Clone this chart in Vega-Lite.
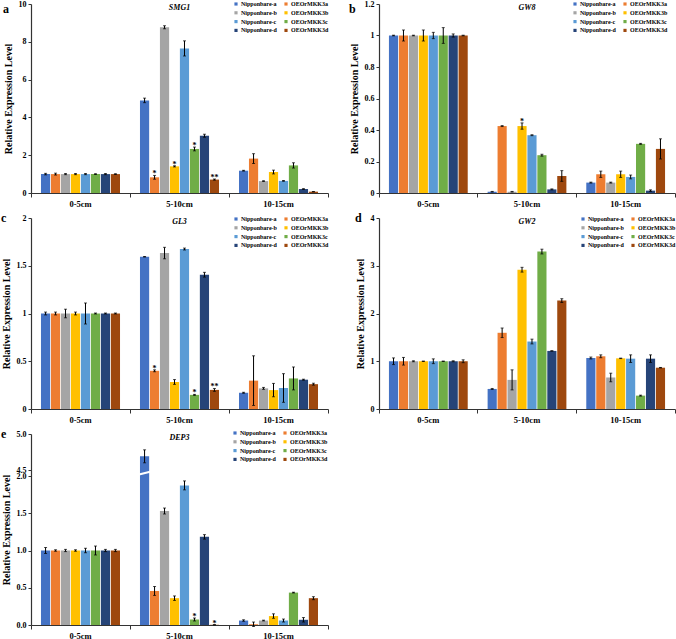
{
  "$schema": "https://vega.github.io/schema/vega-lite/v6.json",
  "padding": {"left": 1, "top": 0, "right": 0, "bottom": 3},
  "datasets": {
    "SMG1": [
      {"depth":"0-5cm","series":"Nipponbare-a","v":1,"e":0.04},
      {"depth":"0-5cm","series":"OEOrMKK3a","v":1,"e":0.05},
      {"depth":"0-5cm","series":"Nipponbare-b","v":1,"e":0.03},
      {"depth":"0-5cm","series":"OEOrMKK3b","v":1,"e":0.03},
      {"depth":"0-5cm","series":"Nipponbare-c","v":1,"e":0.03},
      {"depth":"0-5cm","series":"OEOrMKK3c","v":1,"e":0.02},
      {"depth":"0-5cm","series":"Nipponbare-d","v":1,"e":0.03},
      {"depth":"0-5cm","series":"OEOrMKK3d","v":1,"e":0.02},
      {"depth":"5-10cm","series":"Nipponbare-a","v":4.9,"e":0.12},
      {"depth":"5-10cm","series":"OEOrMKK3a","v":0.83,"e":0.1,"sig":"*"},
      {"depth":"5-10cm","series":"Nipponbare-b","v":8.77,"e":0.08},
      {"depth":"5-10cm","series":"OEOrMKK3b","v":1.41,"e":0.03,"sig":"*"},
      {"depth":"5-10cm","series":"Nipponbare-c","v":7.65,"e":0.4},
      {"depth":"5-10cm","series":"OEOrMKK3c","v":2.33,"e":0.1,"sig":"*"},
      {"depth":"5-10cm","series":"Nipponbare-d","v":3.03,"e":0.08},
      {"depth":"5-10cm","series":"OEOrMKK3d","v":0.71,"e":0.03,"sig":"**"},
      {"depth":"10-15cm","series":"Nipponbare-a","v":1.18,"e":0.02},
      {"depth":"10-15cm","series":"OEOrMKK3a","v":1.82,"e":0.26},
      {"depth":"10-15cm","series":"Nipponbare-b","v":0.63,"e":0.02},
      {"depth":"10-15cm","series":"OEOrMKK3b","v":1.11,"e":0.1},
      {"depth":"10-15cm","series":"Nipponbare-c","v":0.64,"e":0.02},
      {"depth":"10-15cm","series":"OEOrMKK3c","v":1.46,"e":0.14},
      {"depth":"10-15cm","series":"Nipponbare-d","v":0.21,"e":0.02},
      {"depth":"10-15cm","series":"OEOrMKK3d","v":0.07,"e":0.01}
    ],
    "GW8": [
      {"depth":"0-5cm","series":"Nipponbare-a","v":1,"e":0.002},
      {"depth":"0-5cm","series":"OEOrMKK3a","v":1,"e":0.035},
      {"depth":"0-5cm","series":"Nipponbare-b","v":1,"e":0.002},
      {"depth":"0-5cm","series":"OEOrMKK3b","v":1,"e":0.035},
      {"depth":"0-5cm","series":"Nipponbare-c","v":1,"e":0.02},
      {"depth":"0-5cm","series":"OEOrMKK3c","v":1,"e":0.05},
      {"depth":"0-5cm","series":"Nipponbare-d","v":1,"e":0.01},
      {"depth":"0-5cm","series":"OEOrMKK3d","v":1,"e":0.002},
      {"depth":"5-10cm","series":"Nipponbare-a","v":0.008,"e":0.002},
      {"depth":"5-10cm","series":"OEOrMKK3a","v":0.425,"e":0.003},
      {"depth":"5-10cm","series":"Nipponbare-b","v":0.008,"e":0.002},
      {"depth":"5-10cm","series":"OEOrMKK3b","v":0.425,"e":0.02,"sig":"*"},
      {"depth":"5-10cm","series":"Nipponbare-c","v":0.367,"e":0.003},
      {"depth":"5-10cm","series":"OEOrMKK3c","v":0.24,"e":0.006},
      {"depth":"5-10cm","series":"Nipponbare-d","v":0.023,"e":0.003},
      {"depth":"5-10cm","series":"OEOrMKK3d","v":0.108,"e":0.034},
      {"depth":"10-15cm","series":"Nipponbare-a","v":0.066,"e":0.003},
      {"depth":"10-15cm","series":"OEOrMKK3a","v":0.119,"e":0.02},
      {"depth":"10-15cm","series":"Nipponbare-b","v":0.066,"e":0.003},
      {"depth":"10-15cm","series":"OEOrMKK3b","v":0.119,"e":0.02},
      {"depth":"10-15cm","series":"Nipponbare-c","v":0.102,"e":0.012},
      {"depth":"10-15cm","series":"OEOrMKK3c","v":0.312,"e":0.003},
      {"depth":"10-15cm","series":"Nipponbare-d","v":0.015,"e":0.005},
      {"depth":"10-15cm","series":"OEOrMKK3d","v":0.28,"e":0.064}
    ],
    "GL3": [
      {"depth":"0-5cm","series":"Nipponbare-a","v":1,"e":0.015},
      {"depth":"0-5cm","series":"OEOrMKK3a","v":1,"e":0.015},
      {"depth":"0-5cm","series":"Nipponbare-b","v":1,"e":0.045},
      {"depth":"0-5cm","series":"OEOrMKK3b","v":1,"e":0.015},
      {"depth":"0-5cm","series":"Nipponbare-c","v":1,"e":0.11},
      {"depth":"0-5cm","series":"OEOrMKK3c","v":1,"e":0.005},
      {"depth":"0-5cm","series":"Nipponbare-d","v":1,"e":0.005},
      {"depth":"0-5cm","series":"OEOrMKK3d","v":1,"e":0.005},
      {"depth":"5-10cm","series":"Nipponbare-a","v":1.594,"e":0.003},
      {"depth":"5-10cm","series":"OEOrMKK3a","v":0.4,"e":0.01,"sig":"*"},
      {"depth":"5-10cm","series":"Nipponbare-b","v":1.633,"e":0.06},
      {"depth":"5-10cm","series":"OEOrMKK3b","v":0.283,"e":0.025},
      {"depth":"5-10cm","series":"Nipponbare-c","v":1.675,"e":0.01},
      {"depth":"5-10cm","series":"OEOrMKK3c","v":0.148,"e":0.005,"sig":"*"},
      {"depth":"5-10cm","series":"Nipponbare-d","v":1.406,"e":0.025},
      {"depth":"5-10cm","series":"OEOrMKK3d","v":0.2,"e":0.015,"sig":"**"},
      {"depth":"10-15cm","series":"Nipponbare-a","v":0.17,"e":0.005},
      {"depth":"10-15cm","series":"OEOrMKK3a","v":0.297,"e":0.26},
      {"depth":"10-15cm","series":"Nipponbare-b","v":0.216,"e":0.01},
      {"depth":"10-15cm","series":"OEOrMKK3b","v":0.198,"e":0.07},
      {"depth":"10-15cm","series":"Nipponbare-c","v":0.22,"e":0.15},
      {"depth":"10-15cm","series":"OEOrMKK3c","v":0.32,"e":0.12},
      {"depth":"10-15cm","series":"Nipponbare-d","v":0.307,"e":0.005},
      {"depth":"10-15cm","series":"OEOrMKK3d","v":0.26,"e":0.01}
    ],
    "GW2": [
      {"depth":"0-5cm","series":"Nipponbare-a","v":1,"e":0.07},
      {"depth":"0-5cm","series":"OEOrMKK3a","v":1,"e":0.08},
      {"depth":"0-5cm","series":"Nipponbare-b","v":1,"e":0.01},
      {"depth":"0-5cm","series":"OEOrMKK3b","v":1,"e":0.005},
      {"depth":"0-5cm","series":"Nipponbare-c","v":1,"e":0.05},
      {"depth":"0-5cm","series":"OEOrMKK3c","v":1,"e":0.005},
      {"depth":"0-5cm","series":"Nipponbare-d","v":1,"e":0.01},
      {"depth":"0-5cm","series":"OEOrMKK3d","v":1,"e":0.03},
      {"depth":"5-10cm","series":"Nipponbare-a","v":0.42,"e":0.01},
      {"depth":"5-10cm","series":"OEOrMKK3a","v":1.596,"e":0.1},
      {"depth":"5-10cm","series":"Nipponbare-b","v":0.61,"e":0.21},
      {"depth":"5-10cm","series":"OEOrMKK3b","v":2.917,"e":0.05},
      {"depth":"5-10cm","series":"Nipponbare-c","v":1.413,"e":0.05},
      {"depth":"5-10cm","series":"OEOrMKK3c","v":3.297,"e":0.05},
      {"depth":"5-10cm","series":"Nipponbare-d","v":1.216,"e":0.005},
      {"depth":"5-10cm","series":"OEOrMKK3d","v":2.27,"e":0.04},
      {"depth":"10-15cm","series":"Nipponbare-a","v":1.068,"e":0.02},
      {"depth":"10-15cm","series":"OEOrMKK3a","v":1.104,"e":0.03},
      {"depth":"10-15cm","series":"Nipponbare-b","v":0.66,"e":0.09},
      {"depth":"10-15cm","series":"OEOrMKK3b","v":1.061,"e":0.005},
      {"depth":"10-15cm","series":"Nipponbare-c","v":1.054,"e":0.08},
      {"depth":"10-15cm","series":"OEOrMKK3c","v":0.28,"e":0.01},
      {"depth":"10-15cm","series":"Nipponbare-d","v":1.054,"e":0.08},
      {"depth":"10-15cm","series":"OEOrMKK3d","v":0.865,"e":0.005}
    ],
    "DEP3": [
      {"depth":"0-5cm","series":"Nipponbare-a","v":1,"e":0.04},
      {"depth":"0-5cm","series":"OEOrMKK3a","v":1,"e":0.01},
      {"depth":"0-5cm","series":"Nipponbare-b","v":1,"e":0.015},
      {"depth":"0-5cm","series":"OEOrMKK3b","v":1,"e":0.01},
      {"depth":"0-5cm","series":"Nipponbare-c","v":1,"e":0.03},
      {"depth":"0-5cm","series":"OEOrMKK3c","v":1,"e":0.06},
      {"depth":"0-5cm","series":"Nipponbare-d","v":1,"e":0.015},
      {"depth":"0-5cm","series":"OEOrMKK3d","v":1,"e":0.015},
      {"depth":"5-10cm","series":"Nipponbare-a","v":4.69,"e":0.09},
      {"depth":"5-10cm","series":"OEOrMKK3a","v":0.457,"e":0.06},
      {"depth":"5-10cm","series":"Nipponbare-b","v":1.53,"e":0.04},
      {"depth":"5-10cm","series":"OEOrMKK3b","v":0.36,"e":0.03},
      {"depth":"5-10cm","series":"Nipponbare-c","v":1.874,"e":0.06},
      {"depth":"5-10cm","series":"OEOrMKK3c","v":0.074,"e":0.02,"sig":"*"},
      {"depth":"5-10cm","series":"Nipponbare-d","v":1.183,"e":0.03},
      {"depth":"5-10cm","series":"OEOrMKK3d","v":0.003,"e":0.002,"sig":"*"},
      {"depth":"10-15cm","series":"Nipponbare-a","v":0.06,"e":0.01},
      {"depth":"10-15cm","series":"OEOrMKK3a","v":0.01,"e":0.03},
      {"depth":"10-15cm","series":"Nipponbare-b","v":0.06,"e":0.005},
      {"depth":"10-15cm","series":"OEOrMKK3b","v":0.12,"e":0.03},
      {"depth":"10-15cm","series":"Nipponbare-c","v":0.06,"e":0.02},
      {"depth":"10-15cm","series":"OEOrMKK3c","v":0.435,"e":0.005},
      {"depth":"10-15cm","series":"Nipponbare-d","v":0.07,"e":0.03},
      {"depth":"10-15cm","series":"OEOrMKK3d","v":0.36,"e":0.02}
    ]
  },
  "columns": 2,
  "bounds": "flush",
  "spacing": {"row": 25, "column": 51},
  "resolve": {"scale": {"color": "independent", "y": "independent", "x": "independent", "xOffset": "independent"}, "legend": {"color": "independent"}},
  "concat": [
    {
      "width": 297, "height": 189,
      "title": {"text": "a", "offset": -16},
      "data": {"name": "SMG1"},
      "encoding": {
        "x": {"field": "depth", "type": "nominal", "sort": ["0-5cm","5-10cm","10-15cm"], "scale": {"paddingInner": 0, "paddingOuter": 0}, "axis": {"title": null, "labelPadding": 2.5, "labelAngle": 0, "labelFontSize": 8.5, "bandPosition": 1, "tickExtra": true, "tickSize": 4}}
      },
      "layer": [
        {
          "mark": {"type": "bar"},
          "encoding": {
            "xOffset": {"field": "series", "type": "nominal", "scale": {"domain": ["Nipponbare-a","OEOrMKK3a","Nipponbare-b","OEOrMKK3b","Nipponbare-c","OEOrMKK3c","Nipponbare-d","OEOrMKK3d"], "paddingInner": 0.08, "paddingOuter": 1}},
            "y": {"field": "v", "type": "quantitative", "scale": {"domain": [0, 10], "nice": false}, "axis": {"title": "Relative Expression Level", "values": [0,2,4,6,8,10], "format": "~r"}},
            "color": {"field": "series", "type": "nominal", "scale": {"domain": ["Nipponbare-a","Nipponbare-b","Nipponbare-c","Nipponbare-d","OEOrMKK3a","OEOrMKK3b","OEOrMKK3c","OEOrMKK3d"], "range": ["#4472C4","#A5A5A5","#5B9BD5","#264478","#ED7D31","#FFC000","#70AD47","#9E480E"]}, "legend": {"title": null, "legendX": 202, "legendY": -3}}
          }
        },
        {
          "mark": {"type": "errorbar", "ticks": {"size": 3, "thickness": 1, "color": "black"}, "rule": {"strokeWidth": 1, "color": "black"}},
          "encoding": {
            "xOffset": {"field": "series", "type": "nominal"},
            "y": {"field": "v", "type": "quantitative", "scale": {"domain": [0, 10], "nice": false}, "axis": {"title": "Relative Expression Level", "values": [0,2,4,6,8,10], "format": "~r"}},
            "yError": {"field": "e"}
          }
        },
        {
          "transform": [{"filter": "datum.sig"}, {"calculate": "datum.v + datum.e", "as": "top"}],
          "mark": {"type": "text", "baseline": "alphabetic", "dy": 1, "fontSize": 8, "fontWeight": "bold"},
          "encoding": {
            "xOffset": {"field": "series", "type": "nominal"},
            "y": {"field": "top", "type": "quantitative", "scale": {"domain": [0, 10], "nice": false}, "axis": {"title": "Relative Expression Level", "values": [0,2,4,6,8,10], "format": "~r"}},
            "text": {"field": "sig"}
          }
        },
        {
          "data": {"values": [{"depth": "5-10cm", "gene": "SMG1"}]},
          "mark": {"type": "text", "baseline": "top", "dy": 0, "fontSize": 8, "fontWeight": "bold", "fontStyle": "italic"},
          "encoding": {
            "y": {"datum": 10, "type": "quantitative", "scale": {"domain": [0, 10], "nice": false}, "axis": {"title": "Relative Expression Level", "values": [0,2,4,6,8,10], "format": "~r"}},
            "text": {"field": "gene"}
          }
        }
      ]
    },
    {
      "width": 296, "height": 189,
      "title": {"text": "b", "offset": -16},
      "data": {"name": "GW8"},
      "encoding": {
        "x": {"field": "depth", "type": "nominal", "sort": ["0-5cm","5-10cm","10-15cm"], "scale": {"paddingInner": 0, "paddingOuter": 0}, "axis": {"title": null, "labelPadding": 2.5, "labelAngle": 0, "labelFontSize": 8.5, "bandPosition": 1, "tickExtra": true, "tickSize": 4}}
      },
      "layer": [
        {
          "mark": {"type": "bar"},
          "encoding": {
            "xOffset": {"field": "series", "type": "nominal", "scale": {"domain": ["Nipponbare-a","OEOrMKK3a","Nipponbare-b","OEOrMKK3b","Nipponbare-c","OEOrMKK3c","Nipponbare-d","OEOrMKK3d"], "paddingInner": 0.08, "paddingOuter": 1}},
            "y": {"field": "v", "type": "quantitative", "scale": {"domain": [0, 1.2], "nice": false}, "axis": {"title": "Relative Expression Level", "values": [0,0.2,0.4,0.6,0.8,1,1.2], "format": "~r"}},
            "color": {"field": "series", "type": "nominal", "scale": {"domain": ["Nipponbare-a","Nipponbare-b","Nipponbare-c","Nipponbare-d","OEOrMKK3a","OEOrMKK3b","OEOrMKK3c","OEOrMKK3d"], "range": ["#4472C4","#A5A5A5","#5B9BD5","#264478","#ED7D31","#FFC000","#70AD47","#9E480E"]}, "legend": {"title": null, "legendX": 193, "legendY": -3}}
          }
        },
        {
          "mark": {"type": "errorbar", "ticks": {"size": 3, "thickness": 1, "color": "black"}, "rule": {"strokeWidth": 1, "color": "black"}},
          "encoding": {
            "xOffset": {"field": "series", "type": "nominal"},
            "y": {"field": "v", "type": "quantitative", "scale": {"domain": [0, 1.2], "nice": false}, "axis": {"title": "Relative Expression Level", "values": [0,0.2,0.4,0.6,0.8,1,1.2], "format": "~r"}},
            "yError": {"field": "e"}
          }
        },
        {
          "transform": [{"filter": "datum.sig"}, {"calculate": "datum.v + datum.e", "as": "top"}],
          "mark": {"type": "text", "baseline": "alphabetic", "dy": 1, "fontSize": 8, "fontWeight": "bold"},
          "encoding": {
            "xOffset": {"field": "series", "type": "nominal"},
            "y": {"field": "top", "type": "quantitative", "scale": {"domain": [0, 1.2], "nice": false}, "axis": {"title": "Relative Expression Level", "values": [0,0.2,0.4,0.6,0.8,1,1.2], "format": "~r"}},
            "text": {"field": "sig"}
          }
        },
        {
          "data": {"values": [{"depth": "5-10cm", "gene": "GW8"}]},
          "mark": {"type": "text", "baseline": "top", "dy": 0, "fontSize": 8, "fontWeight": "bold", "fontStyle": "italic"},
          "encoding": {
            "y": {"datum": 1.2, "type": "quantitative", "scale": {"domain": [0, 1.2], "nice": false}, "axis": {"title": "Relative Expression Level", "values": [0,0.2,0.4,0.6,0.8,1,1.2], "format": "~r"}},
            "text": {"field": "gene"}
          }
        }
      ]
    },
    {
      "width": 297, "height": 191,
      "title": "c",
      "data": {"name": "GL3"},
      "encoding": {
        "x": {"field": "depth", "type": "nominal", "sort": ["0-5cm","5-10cm","10-15cm"], "scale": {"paddingInner": 0, "paddingOuter": 0}, "axis": {"title": null, "labelPadding": 2.5, "labelAngle": 0, "labelFontSize": 8.5, "bandPosition": 1, "tickExtra": true, "tickSize": 4}}
      },
      "layer": [
        {
          "mark": {"type": "bar"},
          "encoding": {
            "xOffset": {"field": "series", "type": "nominal", "scale": {"domain": ["Nipponbare-a","OEOrMKK3a","Nipponbare-b","OEOrMKK3b","Nipponbare-c","OEOrMKK3c","Nipponbare-d","OEOrMKK3d"], "paddingInner": 0.08, "paddingOuter": 1}},
            "y": {"field": "v", "type": "quantitative", "scale": {"domain": [0, 2], "nice": false}, "axis": {"title": "Relative Expression Level", "values": [0,0.5,1,1.5,2], "format": "~r"}},
            "color": {"field": "series", "type": "nominal", "scale": {"domain": ["Nipponbare-a","Nipponbare-b","Nipponbare-c","Nipponbare-d","OEOrMKK3a","OEOrMKK3b","OEOrMKK3c","OEOrMKK3d"], "range": ["#4472C4","#A5A5A5","#5B9BD5","#264478","#ED7D31","#FFC000","#70AD47","#9E480E"]}, "legend": {"title": null, "legendX": 202, "legendY": -2}}
          }
        },
        {
          "mark": {"type": "errorbar", "ticks": {"size": 3, "thickness": 1, "color": "black"}, "rule": {"strokeWidth": 1, "color": "black"}},
          "encoding": {
            "xOffset": {"field": "series", "type": "nominal"},
            "y": {"field": "v", "type": "quantitative", "scale": {"domain": [0, 2], "nice": false}, "axis": {"title": "Relative Expression Level", "values": [0,0.5,1,1.5,2], "format": "~r"}},
            "yError": {"field": "e"}
          }
        },
        {
          "transform": [{"filter": "datum.sig"}, {"calculate": "datum.v + datum.e", "as": "top"}],
          "mark": {"type": "text", "baseline": "alphabetic", "dy": 1, "fontSize": 8, "fontWeight": "bold"},
          "encoding": {
            "xOffset": {"field": "series", "type": "nominal"},
            "y": {"field": "top", "type": "quantitative", "scale": {"domain": [0, 2], "nice": false}, "axis": {"title": "Relative Expression Level", "values": [0,0.5,1,1.5,2], "format": "~r"}},
            "text": {"field": "sig"}
          }
        },
        {
          "data": {"values": [{"depth": "5-10cm", "gene": "GL3"}]},
          "mark": {"type": "text", "baseline": "top", "dy": 0, "fontSize": 8, "fontWeight": "bold", "fontStyle": "italic"},
          "encoding": {
            "y": {"datum": 2, "type": "quantitative", "scale": {"domain": [0, 2], "nice": false}, "axis": {"title": "Relative Expression Level", "values": [0,0.5,1,1.5,2], "format": "~r"}},
            "text": {"field": "gene"}
          }
        }
      ]
    },
    {
      "width": 296, "height": 191,
      "title": "d",
      "data": {"name": "GW2"},
      "encoding": {
        "x": {"field": "depth", "type": "nominal", "sort": ["0-5cm","5-10cm","10-15cm"], "scale": {"paddingInner": 0, "paddingOuter": 0}, "axis": {"title": null, "labelPadding": 2.5, "labelAngle": 0, "labelFontSize": 8.5, "bandPosition": 1, "tickExtra": true, "tickSize": 4}}
      },
      "layer": [
        {
          "mark": {"type": "bar"},
          "encoding": {
            "xOffset": {"field": "series", "type": "nominal", "scale": {"domain": ["Nipponbare-a","OEOrMKK3a","Nipponbare-b","OEOrMKK3b","Nipponbare-c","OEOrMKK3c","Nipponbare-d","OEOrMKK3d"], "paddingInner": 0.08, "paddingOuter": 1}},
            "y": {"field": "v", "type": "quantitative", "scale": {"domain": [0, 4], "nice": false}, "axis": {"title": "Relative Expression Level", "values": [0,1,2,3,4], "format": "~r"}},
            "color": {"field": "series", "type": "nominal", "scale": {"domain": ["Nipponbare-a","Nipponbare-b","Nipponbare-c","Nipponbare-d","OEOrMKK3a","OEOrMKK3b","OEOrMKK3c","OEOrMKK3d"], "range": ["#4472C4","#A5A5A5","#5B9BD5","#264478","#ED7D31","#FFC000","#70AD47","#9E480E"]}, "legend": {"title": null, "legendX": 201, "legendY": -2}}
          }
        },
        {
          "mark": {"type": "errorbar", "ticks": {"size": 3, "thickness": 1, "color": "black"}, "rule": {"strokeWidth": 1, "color": "black"}},
          "encoding": {
            "xOffset": {"field": "series", "type": "nominal"},
            "y": {"field": "v", "type": "quantitative", "scale": {"domain": [0, 4], "nice": false}, "axis": {"title": "Relative Expression Level", "values": [0,1,2,3,4], "format": "~r"}},
            "yError": {"field": "e"}
          }
        },
        {
          "data": {"values": [{"depth": "5-10cm", "gene": "GW2"}]},
          "mark": {"type": "text", "baseline": "top", "dy": 0, "fontSize": 8, "fontWeight": "bold", "fontStyle": "italic"},
          "encoding": {
            "y": {"datum": 4, "type": "quantitative", "scale": {"domain": [0, 4], "nice": false}, "axis": {"title": "Relative Expression Level", "values": [0,1,2,3,4], "format": "~r"}},
            "text": {"field": "gene"}
          }
        }
      ]
    },
    {
      "width": 297, "height": 191,
      "title": "e",
      "data": {"name": "DEP3"},
      "encoding": {
        "x": {"field": "depth", "type": "nominal", "sort": ["0-5cm","5-10cm","10-15cm"], "scale": {"paddingInner": 0, "paddingOuter": 0}, "axis": {"title": null, "labelPadding": 2.5, "labelAngle": 0, "labelFontSize": 8.5, "bandPosition": 1, "tickExtra": true, "tickSize": 4}}
      },
      "layer": [
        {
          "mark": {"type": "bar"},
          "encoding": {
            "xOffset": {"field": "series", "type": "nominal", "scale": {"domain": ["Nipponbare-a","OEOrMKK3a","Nipponbare-b","OEOrMKK3b","Nipponbare-c","OEOrMKK3c","Nipponbare-d","OEOrMKK3d"], "paddingInner": 0.08, "paddingOuter": 1}},
            "y": {"field": "v", "type": "quantitative", "scale": {"domain": [0, 2, 4.5, 5], "range": [191, 42, 36, 0], "nice": false}, "axis": {"title": "Relative Expression Level", "values": [0,0.5,1,1.5,2,4.5,5], "format": ".1f"}},
            "color": {"field": "series", "type": "nominal", "scale": {"domain": ["Nipponbare-a","Nipponbare-b","Nipponbare-c","Nipponbare-d","OEOrMKK3a","OEOrMKK3b","OEOrMKK3c","OEOrMKK3d"], "range": ["#4472C4","#A5A5A5","#5B9BD5","#264478","#ED7D31","#FFC000","#70AD47","#9E480E"]}, "legend": {"title": null, "legendX": 201, "legendY": -4}}
          }
        },
        {
          "mark": {"type": "errorbar", "ticks": {"size": 3, "thickness": 1, "color": "black"}, "rule": {"strokeWidth": 1, "color": "black"}},
          "encoding": {
            "xOffset": {"field": "series", "type": "nominal"},
            "y": {"field": "v", "type": "quantitative", "scale": {"domain": [0, 2, 4.5, 5], "range": [191, 42, 36, 0], "nice": false}, "axis": {"title": "Relative Expression Level", "values": [0,0.5,1,1.5,2,4.5,5], "format": ".1f"}},
            "yError": {"field": "e"}
          }
        },
        {
          "transform": [{"filter": "datum.sig"}, {"calculate": "datum.v + datum.e", "as": "top"}],
          "mark": {"type": "text", "baseline": "alphabetic", "dy": 1, "fontSize": 8, "fontWeight": "bold"},
          "encoding": {
            "xOffset": {"field": "series", "type": "nominal"},
            "y": {"field": "top", "type": "quantitative", "scale": {"domain": [0, 2, 4.5, 5], "range": [191, 42, 36, 0], "nice": false}, "axis": {"title": "Relative Expression Level", "values": [0,0.5,1,1.5,2,4.5,5], "format": ".1f"}},
            "text": {"field": "sig"}
          }
        },
        {
          "transform": [{"filter": "datum.depth === '5-10cm' && datum.series === 'Nipponbare-a'"}],
          "mark": {"type": "point", "shape": "M-1,0.25L1,-0.25", "filled": false, "stroke": "white", "strokeWidth": 2, "size": 169, "opacity": 1},
          "encoding": {
            "xOffset": {"field": "series", "type": "nominal"},
            "y": {"datum": 3.2, "type": "quantitative", "scale": {"domain": [0, 2, 4.5, 5], "range": [191, 42, 36, 0], "nice": false}, "axis": {"title": "Relative Expression Level", "values": [0,0.5,1,1.5,2,4.5,5], "format": ".1f"}}
          }
        },
        {
          "data": {"values": [{"depth": "5-10cm", "gene": "DEP3"}]},
          "mark": {"type": "text", "baseline": "top", "dy": 0, "fontSize": 8, "fontWeight": "bold", "fontStyle": "italic"},
          "encoding": {
            "y": {"datum": 5, "type": "quantitative", "scale": {"domain": [0, 2, 4.5, 5], "range": [191, 42, 36, 0], "nice": false}, "axis": {"title": "Relative Expression Level", "values": [0,0.5,1,1.5,2,4.5,5], "format": ".1f"}},
            "text": {"field": "gene"}
          }
        }
      ]
    }
  ],
  "config": {
    "font": "Liberation Serif",
    "view": {"stroke": null},
    "axis": {"labelFont": "Liberation Serif", "labelFontWeight": "bold", "labelFontSize": 8, "labelColor": "black", "labelOverlap": false, "titleFont": "Liberation Serif", "titleFontWeight": "bold", "titleFontSize": 10, "titleColor": "black", "domainColor": "#333", "domainWidth": 1.2, "tickColor": "#333", "tickSize": 3, "labelPadding": 2, "titlePadding": 5, "grid": false},
    "legend": {"orient": "none", "columns": 2, "symbolType": "square", "symbolSize": 10, "symbolStrokeWidth": 0, "labelFont": "Liberation Serif", "labelFontWeight": "bold", "labelFontSize": 6, "labelColor": "black", "rowPadding": 2.8, "columnPadding": 6, "labelOffset": 2, "padding": 0},
    "title": {"font": "Liberation Serif", "fontSize": 12, "fontWeight": "bold", "anchor": "start", "frame": "bounds", "offset": -11, "color": "black"}
  }
}
